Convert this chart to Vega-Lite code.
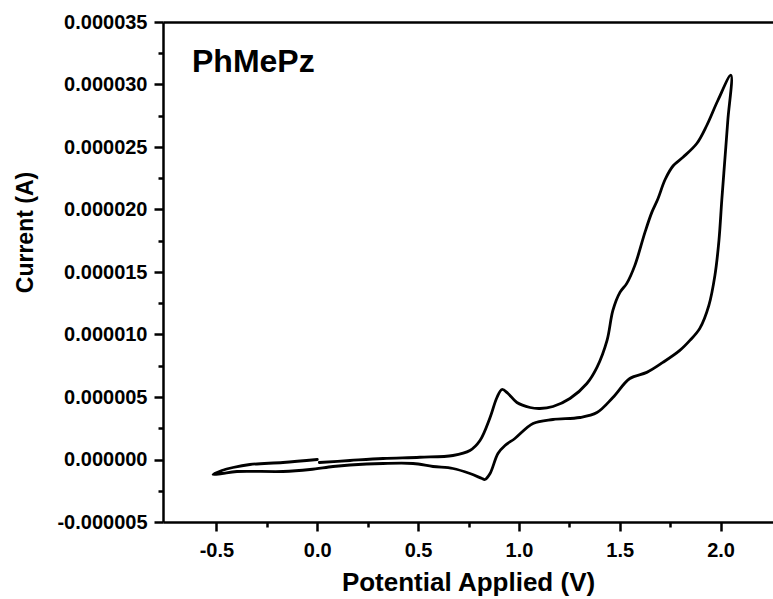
{
  "$schema": "https://vega.github.io/schema/vega-lite/v6.json",
  "width": 610,
  "height": 500,
  "autosize": {"type": "none"},
  "padding": {"left": 163, "top": 22, "right": 0, "bottom": 77},
  "background": "white",
  "title": {"text": "PhMePz", "anchor": "start", "frame": "group", "dx": 29, "offset": -67, "fontSize": 32, "fontWeight": "bold", "font": "Liberation Sans", "color": "black"},
  "config": {"view": {"stroke": null}},
  "data": {"values": [
    {"i": 1, "V": 0.01, "I": -2.4e-7},
    {"i": 2, "V": 0.162, "I": -0.8e-7},
    {"i": 3, "V": 0.326, "I": 0.8e-7},
    {"i": 4, "V": 0.509, "I": 1.8e-7},
    {"i": 5, "V": 0.673, "I": 3.2e-7},
    {"i": 6, "V": 0.757, "I": 7.2e-7},
    {"i": 7, "V": 0.807, "I": 1.52e-6},
    {"i": 8, "V": 0.857, "I": 3.36e-6},
    {"i": 9, "V": 0.891, "I": 4.96e-6},
    {"i": 10, "V": 0.916, "I": 5.6e-6},
    {"i": 11, "V": 0.946, "I": 5.28e-6},
    {"i": 12, "V": 0.99, "I": 4.56e-6},
    {"i": 13, "V": 1.055, "I": 4.16e-6},
    {"i": 14, "V": 1.104, "I": 4.08e-6},
    {"i": 15, "V": 1.169, "I": 4.24e-6},
    {"i": 16, "V": 1.253, "I": 4.88e-6},
    {"i": 17, "V": 1.337, "I": 6.08e-6},
    {"i": 18, "V": 1.387, "I": 7.37e-6},
    {"i": 19, "V": 1.437, "I": 9.53e-6},
    {"i": 20, "V": 1.466, "I": 1.193e-5},
    {"i": 21, "V": 1.501, "I": 1.337e-5},
    {"i": 22, "V": 1.535, "I": 1.409e-5},
    {"i": 23, "V": 1.575, "I": 1.553e-5},
    {"i": 24, "V": 1.625, "I": 1.817e-5},
    {"i": 25, "V": 1.659, "I": 1.977e-5},
    {"i": 26, "V": 1.689, "I": 2.084e-5},
    {"i": 27, "V": 1.725, "I": 2.24e-5},
    {"i": 28, "V": 1.765, "I": 2.35e-5},
    {"i": 29, "V": 1.815, "I": 2.42e-5},
    {"i": 30, "V": 1.883, "I": 2.53e-5},
    {"i": 31, "V": 1.932, "I": 2.674e-5},
    {"i": 32, "V": 1.987, "I": 2.874e-5},
    {"i": 33, "V": 2.051, "I": 3.074e-5},
    {"i": 34, "V": 2.036, "I": 2.714e-5},
    {"i": 35, "V": 2.021, "I": 2.394e-5},
    {"i": 36, "V": 2.006, "I": 2.074e-5},
    {"i": 37, "V": 1.992, "I": 1.753e-5},
    {"i": 38, "V": 1.972, "I": 1.473e-5},
    {"i": 39, "V": 1.942, "I": 1.233e-5},
    {"i": 40, "V": 1.897, "I": 1.049e-5},
    {"i": 41, "V": 1.848, "I": 9.53e-6},
    {"i": 42, "V": 1.798, "I": 8.73e-6},
    {"i": 43, "V": 1.714, "I": 7.77e-6},
    {"i": 44, "V": 1.634, "I": 6.97e-6},
    {"i": 45, "V": 1.55, "I": 6.48e-6},
    {"i": 46, "V": 1.466, "I": 4.96e-6},
    {"i": 47, "V": 1.387, "I": 3.76e-6},
    {"i": 48, "V": 1.302, "I": 3.36e-6},
    {"i": 49, "V": 1.169, "I": 3.2e-6},
    {"i": 50, "V": 1.07, "I": 2.88e-6},
    {"i": 51, "V": 0.98, "I": 1.68e-6},
    {"i": 52, "V": 0.931, "I": 1.12e-6},
    {"i": 53, "V": 0.896, "I": 4.8e-7},
    {"i": 54, "V": 0.857, "I": -1.12e-6},
    {"i": 55, "V": 0.831, "I": -1.6e-6},
    {"i": 56, "V": 0.817, "I": -1.52e-6},
    {"i": 57, "V": 0.757, "I": -1.12e-6},
    {"i": 58, "V": 0.673, "I": -7.2e-7},
    {"i": 59, "V": 0.574, "I": -5.6e-7},
    {"i": 60, "V": 0.475, "I": -3.2e-7},
    {"i": 61, "V": 0.326, "I": -3.2e-7},
    {"i": 62, "V": 0.162, "I": -4.4e-7},
    {"i": 63, "V": 0.078, "I": -5.6e-7},
    {"i": 64, "V": -0.036, "I": -8.0e-7},
    {"i": 65, "V": -0.17, "I": -9.6e-7},
    {"i": 66, "V": -0.398, "I": -9.6e-7},
    {"i": 67, "V": -0.473, "I": -1.12e-6},
    {"i": 68, "V": -0.517, "I": -1.2e-6},
    {"i": 69, "V": -0.473, "I": -8.8e-7},
    {"i": 70, "V": -0.418, "I": -6.4e-7},
    {"i": 71, "V": -0.334, "I": -4.0e-7},
    {"i": 72, "V": -0.17, "I": -2.4e-7},
    {"i": 73, "V": 0.0, "I": 0.0}
  ]},
  "resolve": {"axis": {"x": "independent"}},
  "layer": [
    {
      "mark": {"type": "line", "color": "black", "strokeWidth": 2.8, "strokeJoin": "round", "strokeCap": "round", "interpolate": "catmull-rom"},
      "encoding": {
        "x": {"field": "V", "type": "quantitative",
          "scale": {"domain": [-0.765, 2.26], "nice": false, "zero": false},
          "axis": {
            "title": "Potential Applied (V)",
            "values": [-0.5, -0.25, 0, 0.25, 0.5, 0.75, 1, 1.25, 1.5, 1.75, 2],
            "labelExpr": "abs(datum.value*2 - round(datum.value*2)) < 0.001 ? (datum.value < 0 ? '-' : '') + format(abs(datum.value), '.1f') : ''",
            "tickSize": {"condition": {"test": "abs(datum.value*2 - round(datum.value*2)) < 0.001", "value": 9}, "value": 5},
            "grid": false,
            "domainColor": "black", "domainWidth": 2.5,
            "tickColor": "black", "tickWidth": 2.5,
            "labelFont": "Liberation Sans", "labelFontSize": 20, "labelFontWeight": "bold", "labelColor": "black",
            "labelPadding": 9, "labelFlush": false, "labelOverlap": false,
            "titleFont": "Liberation Sans", "titleFontSize": 26, "titleFontWeight": "bold", "titleColor": "black",
            "titleY": 68, "titleBaseline": "alphabetic"
          }
        },
        "y": {"field": "I", "type": "quantitative",
          "scale": {"domain": [-0.000005, 0.000035], "nice": false, "zero": false},
          "axis": {
            "title": "Current (A)",
            "values": [-0.000005, -0.0000025, 0, 0.0000025, 0.000005, 0.0000075, 0.00001, 0.0000125, 0.000015, 0.0000175, 0.00002, 0.0000225, 0.000025, 0.0000275, 0.00003, 0.0000325, 0.000035],
            "labelExpr": "abs(datum.value/0.000005 - round(datum.value/0.000005)) < 0.01 ? (datum.value < 0 ? '-' : '') + format(abs(datum.value), '.6f') : ''",
            "tickSize": {"condition": {"test": "abs(datum.value/0.000005 - round(datum.value/0.000005)) < 0.01", "value": 9}, "value": 5},
            "grid": false,
            "domainColor": "black", "domainWidth": 2.5,
            "tickColor": "black", "tickWidth": 2.5,
            "labelFont": "Liberation Sans", "labelFontSize": 20, "labelFontWeight": "bold", "labelColor": "black",
            "labelPadding": 7, "labelFlush": false, "labelOverlap": false,
            "titleFont": "Liberation Sans", "titleFontSize": 23, "titleFontWeight": "bold", "titleColor": "black",
            "titleX": -131, "titleY": 210, "titleAlign": "center", "titleBaseline": "alphabetic", "titleAngle": -90
          }
        },
        "order": {"field": "i", "type": "quantitative"}
      }
    },
    {
      "mark": {"type": "line", "opacity": 0},
      "encoding": {
        "x": {"field": "V", "type": "quantitative",
          "axis": {"orient": "top", "labels": false, "ticks": false, "title": null, "grid": false, "domainColor": "black", "domainWidth": 2.5}
        },
        "order": {"field": "i", "type": "quantitative"}
      }
    }
  ]
}
